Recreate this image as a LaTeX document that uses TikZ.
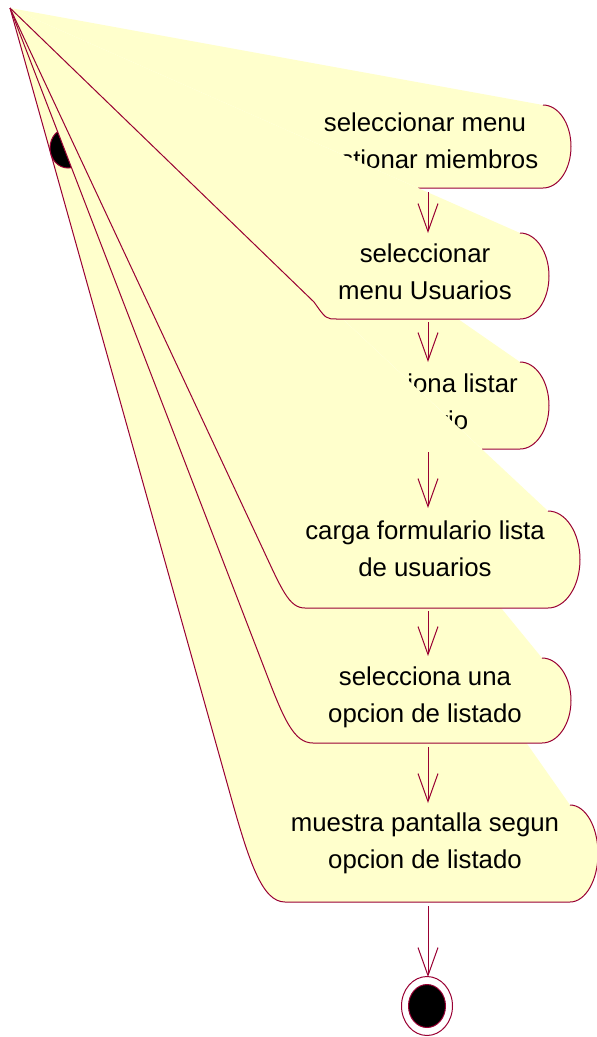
\documentclass[tikz,border=0pt]{standalone}
\usepackage{fontspec}
\setmainfont{Liberation Sans}
\usetikzlibrary{arrows.meta}
\definecolor{rose}{RGB}{153,0,51}
\definecolor{fillY}{RGB}{255,255,204}
\tikzset{
  shapefill/.style={fill=fillY, draw=none},
  shapeline/.style={draw=rose, line width=1pt},
  lbl/.style={align=center, font=\fontsize{25.8}{37}\selectfont, inner sep=0pt, text=black},
  flow/.style={draw=rose, line width=1pt, -{Straight Barb[length=28pt,width=20pt,line width=1pt]}},
}
\begin{document}
\begin{tikzpicture}[x=1pt,y=1pt]
\useasboundingbox (0,0) rectangle (597,-1037);

% activity 6
\fill[shapefill] (10,-8) -- (570,-805) arc[start angle=90,end angle=-90,x radius=28pt,y radius=48.5pt] -- (285,-902) .. controls (262,-902) and (249,-862) .. (229,-790) -- cycle;
\draw[shapeline] (570,-805) arc[start angle=90,end angle=-90,x radius=28pt,y radius=48.5pt] -- (285,-902) .. controls (262,-902) and (249,-862) .. (229,-790) -- (10,-8);
\node[lbl] (a6) at (425,-843.5) {muestra pantalla segun\\opcion de listado};

% initial state
\coordinate (init) at (68,-148);
\path[fill=black, draw=rose, line width=1pt] (init) ellipse[x radius=18pt, y radius=20pt];

% activity 5
\fill[shapefill] (10,-8) -- (542,-658) arc[start angle=90,end angle=-90,x radius=29pt,y radius=42.5pt] -- (313,-743) .. controls (294,-743) and (284,-720) .. (265,-670) -- cycle;
\draw[shapeline] (542,-658) arc[start angle=90,end angle=-90,x radius=29pt,y radius=42.5pt] -- (313,-743) .. controls (294,-743) and (284,-720) .. (265,-670) -- (10,-8);
\node[lbl] (a5) at (425,-697.5) {selecciona una\\opcion de listado};

% activity 3
\fill[shapefill] (10,-8) -- (520,-362) arc[start angle=90,end angle=-90,x radius=29pt,y radius=43.5pt] -- (482,-449) -- cycle;
\draw[shapeline] (520,-362) arc[start angle=90,end angle=-90,x radius=29pt,y radius=43.5pt] -- (482,-449);
\node[lbl] (a3) at (426,-401.5) {selecciona listar\\usuario};

% activity 4
\fill[shapefill] (10,-8) -- (548,-511) arc[start angle=90,end angle=-90,x radius=32pt,y radius=48.5pt] -- (305,-608) .. controls (289,-608) and (282,-590) .. (261,-545) -- cycle;
\draw[shapeline] (548,-511) arc[start angle=90,end angle=-90,x radius=32pt,y radius=48.5pt] -- (305,-608) .. controls (289,-608) and (282,-590) .. (261,-545) -- (10,-8);
\node[lbl] (a4) at (425,-548.5) {carga formulario lista\\de usuarios};

% activity 1
\fill[shapefill] (10,-8) -- (543,-105) arc[start angle=90,end angle=-90,x radius=28pt,y radius=41.5pt] -- (418,-188) -- cycle;
\draw[shapeline] (543,-105) arc[start angle=90,end angle=-90,x radius=28pt,y radius=41.5pt] -- (418,-188);
\node[lbl] (a1) at (425,-143.5) {seleccionar menu\\gestionar miembros};

% activity 2
\fill[shapefill] (10,-8) -- (520,-233) arc[start angle=90,end angle=-90,x radius=29pt,y radius=43pt] -- (337,-319) .. controls (326,-319) .. (314,-302) -- cycle;
\draw[shapeline] (520,-233) arc[start angle=90,end angle=-90,x radius=29pt,y radius=43pt] -- (337,-319) .. controls (326,-319) .. (314,-302) -- (10,-8);
\node[lbl] (a2) at (425,-272) {seleccionar\\menu Usuarios};

% final state
\coordinate (fin) at (427,-1006);
\draw[rose, line width=1pt] (fin) ellipse[x radius=25.5pt, y radius=29.5pt];
\path[fill=black, draw=rose, line width=1pt] (fin) ellipse[x radius=18.5pt, y radius=21.5pt];

% connectors
\coordinate (b1) at (428,-192); \coordinate (t2) at (428,-233);
\coordinate (b2) at (428,-322); \coordinate (t3) at (428,-362);
\coordinate (b3) at (428,-452); \coordinate (t4) at (428,-508);
\coordinate (b4) at (428,-611); \coordinate (t5) at (428,-656);
\coordinate (b5) at (428,-747); \coordinate (t6) at (428,-803);
\coordinate (b6) at (428,-906); \coordinate (tf) at (428,-977);
\draw[flow] (b1) -- (t2);
\draw[flow] (b2) -- (t3);
\draw[flow] (b3) -- (t4);
\draw[flow] (b4) -- (t5);
\draw[flow] (b5) -- (t6);
\draw[flow] (b6) -- (tf);
\end{tikzpicture}
\end{document}
